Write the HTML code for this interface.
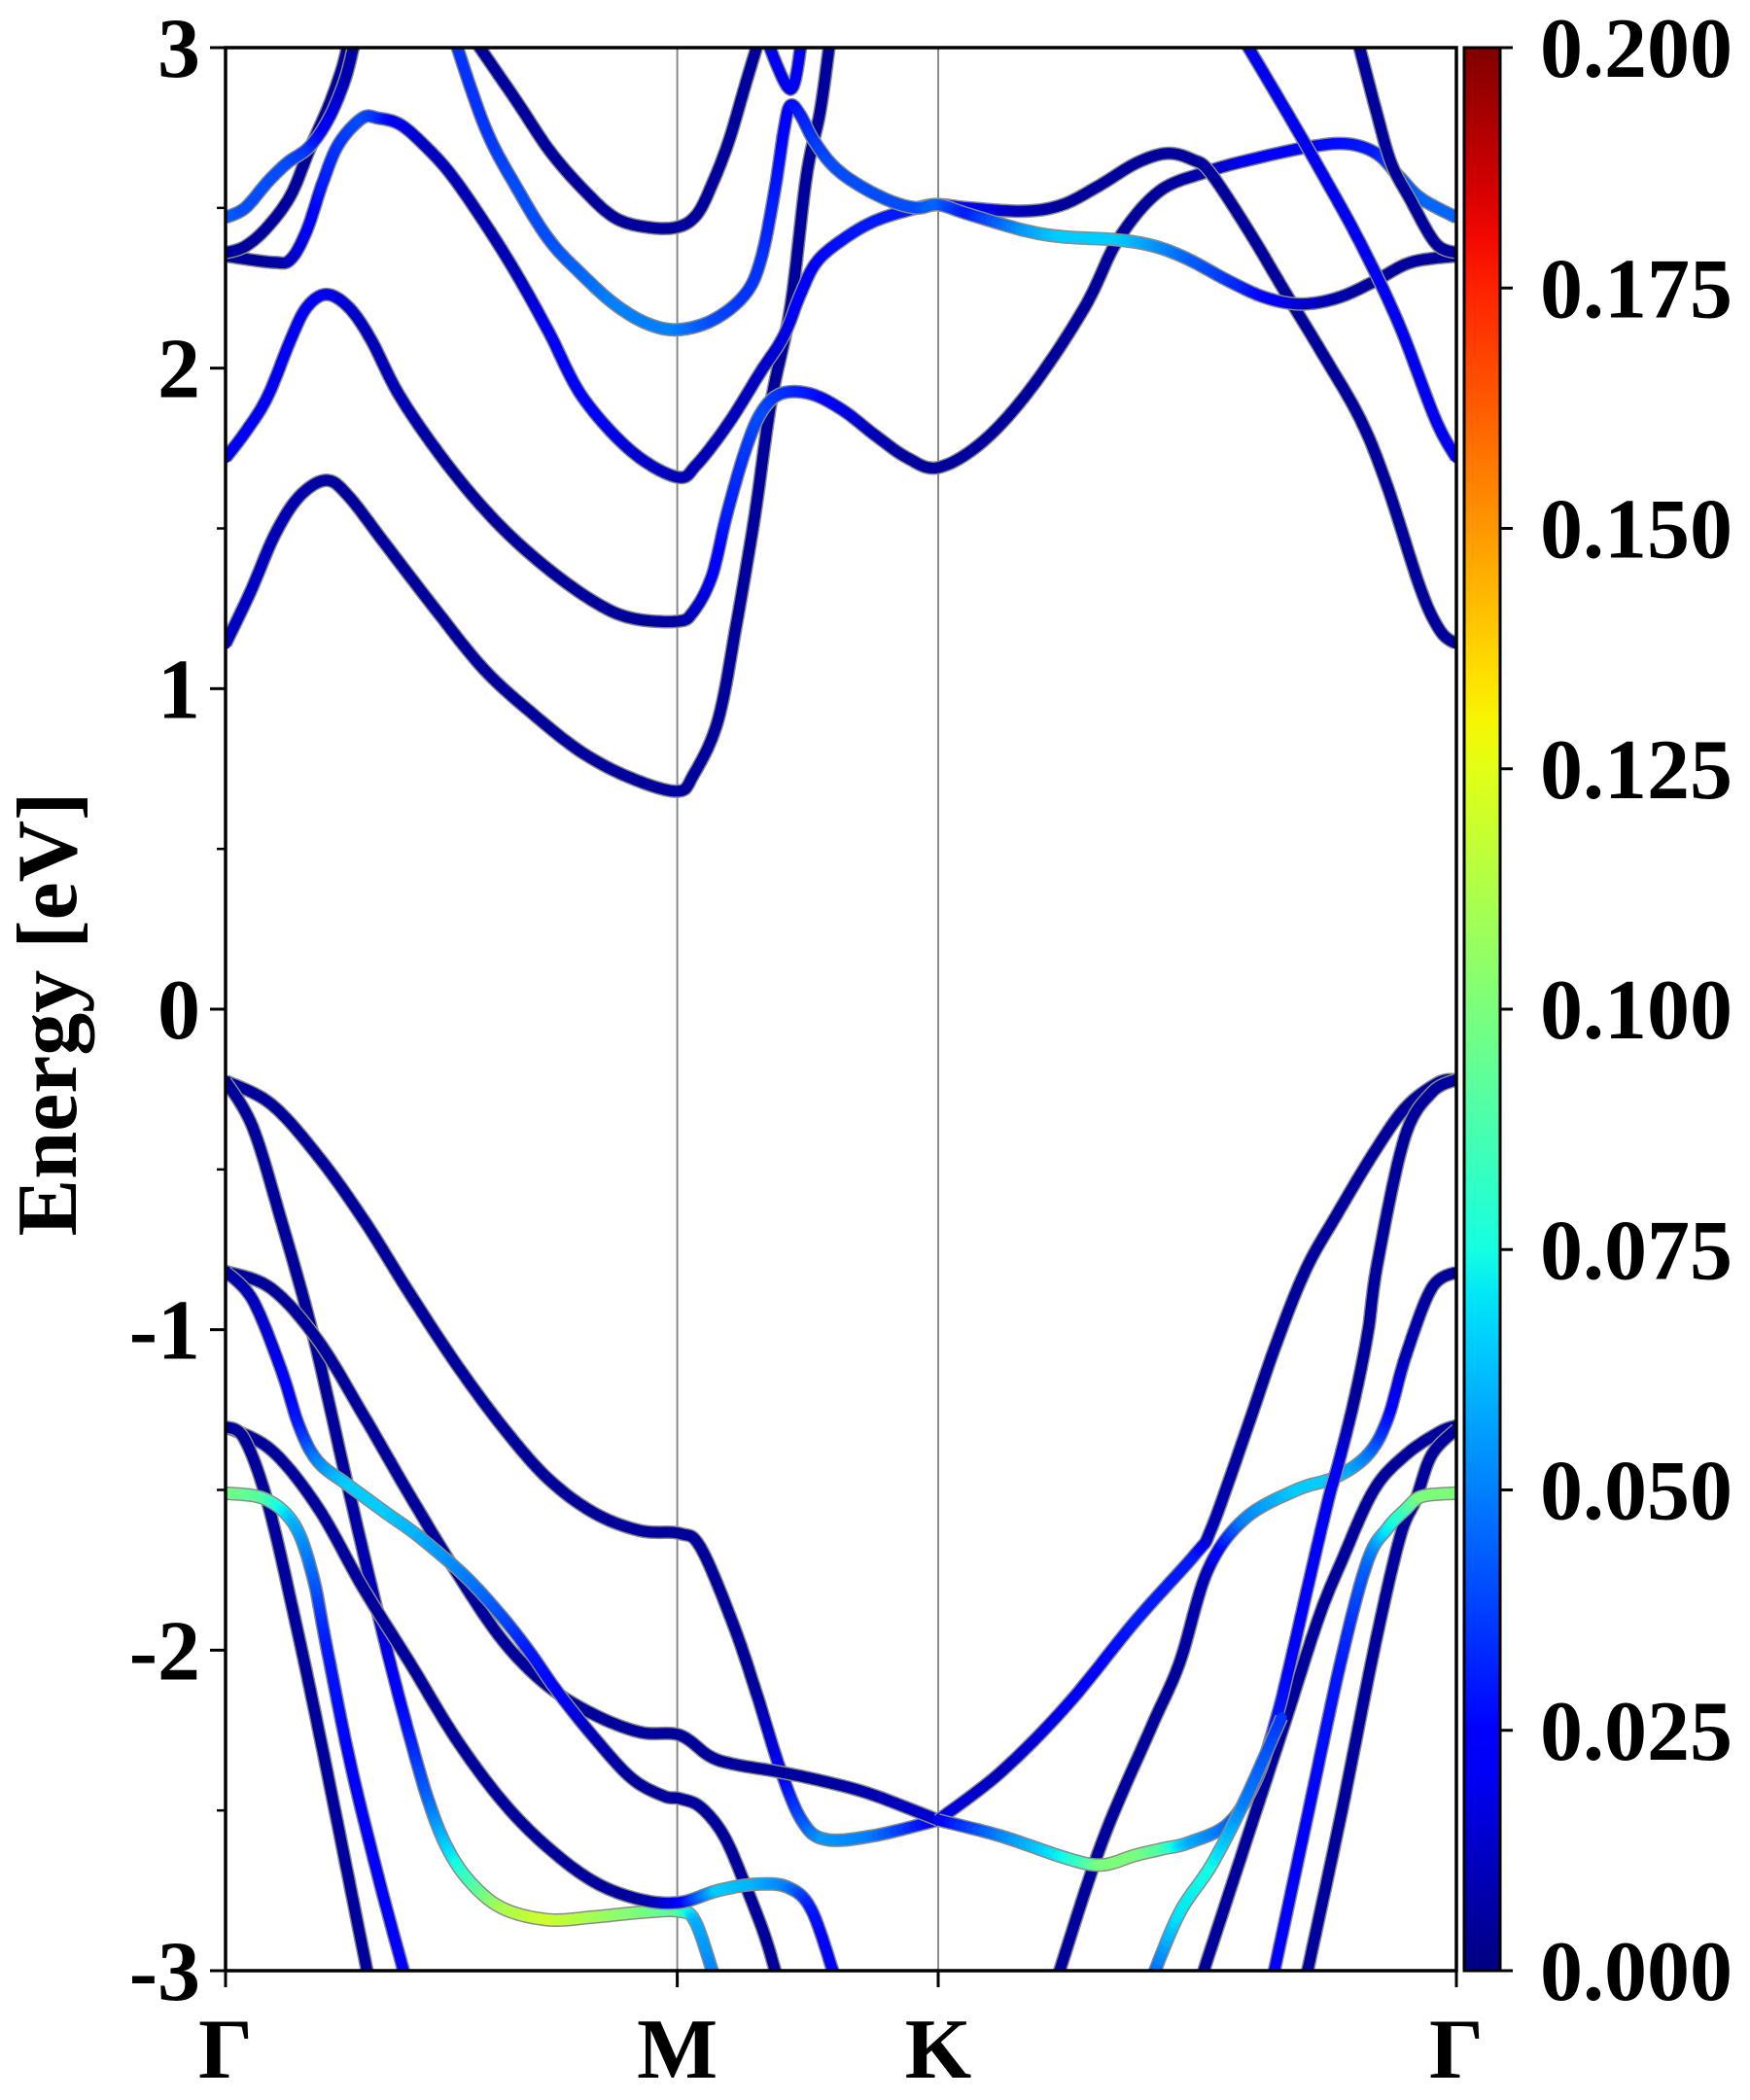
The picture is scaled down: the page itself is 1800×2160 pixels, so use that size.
<!DOCTYPE html>
<html><head><meta charset="utf-8"><style>
html,body{margin:0;padding:0;background:#fff;}
svg{display:block;}
text{font-family:"Liberation Serif","DejaVu Serif",serif;font-weight:bold;fill:#000;}
</style></head>
<body>
<svg id="chart" width="1800" height="2160" viewBox="0 0 1800 2160" xmlns="http://www.w3.org/2000/svg">
<defs>
<clipPath id="plotclip"><rect x="232" y="49" width="1266" height="1978"/></clipPath>
<linearGradient id="jetgrad" x1="0" y1="1" x2="0" y2="0"></linearGradient>
</defs>
<g id="gridlines"></g>
<g id="bands" clip-path="url(#plotclip)"></g>
<rect x="232" y="49" width="1266" height="1978" fill="none" stroke="#000" stroke-width="3.5"/>
<g id="yticks"></g>
<g id="xticks"></g>
<text x="0" y="0" font-size="88" text-anchor="middle" transform="translate(78,1043) rotate(-90)">Energy [eV]</text>
<rect x="1506" y="49" width="37" height="1978" fill="url(#jetgrad)" stroke="#000" stroke-width="3"/>
<g id="cbticks"></g>
</svg>
<script>
const yTicks=[3,2,1,0,-1,-2,-3];
const yTickLabels=["3","2","1","0","-1","-2","-3"];
const xTickK=[0,0.367,0.579,1.0];
const xTickLabels=["Γ","M","K","Γ"];
const cbTicks=[0,0.025,0.05,0.075,0.1,0.125,0.15,0.175,0.2];
const cbLabels=["0.000","0.025","0.050","0.075","0.100","0.125","0.150","0.175","0.200"];

const c1K=[0,0.02,0.04,0.06,0.082,0.10,0.13,0.17,0.21,0.25,0.29,0.33,0.367,0.38,0.40,0.415,0.430,0.443,0.459,0.472,0.483,0.491];
const c1E=[1.14,1.30,1.48,1.60,1.65,1.60,1.45,1.25,1.06,0.92,0.80,0.72,0.68,0.73,0.90,1.20,1.54,1.89,2.19,2.60,2.80,3.02];
const c1W=[0.012,0.012,0.01,0.008,0.006,0.005,0.005,0.005,0.005,0.005,0.005,0.005,0.005,0.005,0.005,0.005,0.005,0.005,0.005,0.005,0.005,0.005];

const c2K=[0,0.016,0.034,0.053,0.066,0.082,0.100,0.118,0.142,0.18,0.22,0.26,0.30,0.33,0.367,0.38,0.395,0.407,0.422,0.435,0.451,0.475,0.501,0.528,0.554,0.579,0.615,0.655,0.698,0.725,0.758,0.795,0.832,0.880,0.911,0.935,0.953,0.971,1.0];
const c2E=[1.72,1.80,1.91,2.09,2.19,2.23,2.19,2.09,1.91,1.70,1.52,1.38,1.27,1.22,1.21,1.24,1.35,1.54,1.74,1.86,1.92,1.92,1.87,1.79,1.72,1.69,1.77,1.94,2.19,2.40,2.55,2.61,2.65,2.69,2.70,2.67,2.60,2.53,2.47];
const c2W=[0.02,0.02,0.02,0.02,0.02,0.02,0.015,0.01,0.01,0.005,0.005,0.005,0.005,0.005,0.005,0.01,0.02,0.03,0.035,0.04,0.035,0.03,0.02,0.01,0.005,0.005,0.005,0.005,0.005,0.005,0.005,0.008,0.02,0.025,0.028,0.03,0.04,0.045,0.045];

const c3K=[0,0.039,0.053,0.066,0.079,0.092,0.111,0.124,0.142,0.163,0.184,0.211,0.237,0.263,0.290,0.330,0.367,0.383,0.409,0.435,0.449,0.457,0.467,0.480,0.501,0.528,0.562,0.579,0.604,0.649,0.680,0.710,0.740,0.765,0.786,0.800,0.831,0.862,0.892,0.922,0.944,0.971,0.987,1.0];
const c3E=[2.35,2.33,2.34,2.43,2.58,2.70,2.78,2.78,2.76,2.69,2.60,2.45,2.29,2.11,1.91,1.74,1.66,1.70,1.83,1.99,2.07,2.13,2.23,2.33,2.40,2.46,2.50,2.51,2.50,2.49,2.51,2.57,2.64,2.67,2.65,2.61,2.43,2.23,2.04,1.84,1.63,1.31,1.18,1.14];
const c3W=[0.005,0.005,0.01,0.02,0.03,0.035,0.04,0.035,0.02,0.012,0.01,0.008,0.01,0.02,0.025,0.015,0.01,0.01,0.01,0.012,0.015,0.018,0.022,0.025,0.028,0.03,0.03,0.03,0.025,0.01,0.005,0.005,0.005,0.005,0.005,0.005,0.005,0.005,0.005,0.005,0.005,0.005,0.005,0.005];

const c4K=[0,0.016,0.034,0.053,0.068,0.084,0.095,0.100];
const c4E=[2.36,2.38,2.44,2.54,2.68,2.82,2.94,3.02];
const c4W=[0.005,0.005,0.005,0.005,0.005,0.005,0.005,0.005];

const c5K=[0,0.016,0.034,0.050,0.068,0.084,0.097,0.105];
const c5E=[2.47,2.50,2.58,2.64,2.69,2.78,2.90,3.02];
const c5W=[0.045,0.04,0.04,0.04,0.035,0.02,0.01,0.005];

const c6K=[0.184,0.211,0.237,0.263,0.290,0.316,0.342,0.367,0.396,0.422,0.435,0.446,0.454,0.459,0.467,0.478,0.494,0.515,0.541,0.562,0.579,0.604,0.649,0.680,0.725,0.755,0.782,0.816,0.845,0.874,0.904,0.933,0.963,1.0];
const c6E=[3.05,2.75,2.56,2.40,2.29,2.20,2.14,2.12,2.15,2.23,2.34,2.55,2.75,2.82,2.79,2.71,2.63,2.57,2.52,2.50,2.51,2.48,2.43,2.41,2.40,2.38,2.34,2.27,2.22,2.20,2.22,2.27,2.33,2.35];
const c6W=[0.035,0.035,0.04,0.04,0.045,0.05,0.05,0.05,0.04,0.035,0.035,0.03,0.025,0.025,0.03,0.035,0.04,0.04,0.04,0.04,0.045,0.03,0.055,0.065,0.065,0.055,0.045,0.035,0.025,0.015,0.008,0.005,0.005,0.005];

const c7K=[0.203,0.237,0.263,0.290,0.316,0.342,0.367,0.383,0.396,0.409,0.422,0.433];
const c7E=[3.02,2.83,2.68,2.56,2.47,2.44,2.44,2.48,2.58,2.71,2.88,3.02];
const c7W=[0.005,0.005,0.005,0.005,0.005,0.005,0.005,0.005,0.005,0.005,0.005,0.005];

const c8K=[0.440,0.459,0.468];
const c8E=[3.02,2.87,3.02];
const c8W=[0.02,0.02,0.02];

const c9K=[0.828,0.862,0.892,0.922,0.953,0.983,1.0];
const c9E=[3.02,2.80,2.60,2.39,2.14,1.84,1.72];
const c9W=[0.02,0.02,0.02,0.02,0.02,0.02,0.02];

const c10K=[0.920,0.935,0.947,0.962,0.983,1.0];
const c10E=[3.02,2.80,2.64,2.53,2.39,2.36];
const c10W=[0.005,0.005,0.005,0.005,0.005,0.005];

const v1K=[0,0.037,0.075,0.112,0.150,0.187,0.225,0.262,0.300,0.337,0.369,0.386,0.412,0.431,0.450,0.468,0.487,0.525,0.579];
const v1E=[-0.224,-0.296,-0.458,-0.656,-0.889,-1.105,-1.303,-1.465,-1.573,-1.627,-1.636,-1.68,-1.915,-2.13,-2.364,-2.53,-2.59,-2.58,-2.53];
const v1W=[0.005,0.005,0.005,0.005,0.005,0.005,0.005,0.005,0.005,0.005,0.005,0.005,0.005,0.005,0.02,0.04,0.055,0.05,0.02];

const v2K=[0,0.022,0.045,0.071,0.099,0.120,0.135,0.150,0.165,0.180,0.199,0.225,0.262,0.300,0.337,0.369,0.382,0.397];
const v2E=[-0.224,-0.368,-0.656,-1.015,-1.483,-1.825,-2.059,-2.275,-2.472,-2.616,-2.724,-2.805,-2.841,-2.832,-2.818,-2.814,-2.85,-3.02];
const v2W=[0.005,0.005,0.005,0.005,0.005,0.01,0.02,0.03,0.045,0.065,0.085,0.11,0.12,0.11,0.1,0.09,0.06,0.05];

const v3K=[0,0.037,0.075,0.112,0.150,0.187,0.225,0.262,0.300,0.337,0.369,0.393,0.412,0.450,0.487,0.525,0.579];
const v3E=[-0.818,-0.871,-1.033,-1.267,-1.519,-1.753,-1.969,-2.112,-2.202,-2.256,-2.265,-2.33,-2.355,-2.38,-2.41,-2.45,-2.53];
const v3W=[0.005,0.005,0.005,0.005,0.005,0.005,0.005,0.005,0.005,0.005,0.005,0.005,0.005,0.005,0.005,0.008,0.015];

const v4K=[0,0.022,0.045,0.060,0.075,0.099,0.131,0.157,0.195,0.225,0.247,0.270,0.300,0.330,0.356,0.369,0.386,0.405,0.423,0.438,0.448];
const v4E=[-0.818,-0.907,-1.123,-1.303,-1.411,-1.483,-1.573,-1.645,-1.771,-1.897,-2.005,-2.131,-2.275,-2.400,-2.455,-2.463,-2.49,-2.58,-2.74,-2.89,-3.02];
const v4W=[0.005,0.01,0.02,0.03,0.05,0.065,0.065,0.06,0.05,0.04,0.03,0.025,0.01,0.005,0.005,0.005,0.005,0.005,0.005,0.005,0.005];

const v5K=[0,0.037,0.075,0.112,0.150,0.187,0.225,0.262,0.300,0.337,0.369,0.400,0.431,0.457,0.476,0.495];
const v5E=[-1.303,-1.375,-1.555,-1.807,-2.041,-2.275,-2.472,-2.616,-2.724,-2.778,-2.787,-2.75,-2.73,-2.74,-2.81,-3.02];
const v5W=[0.005,0.005,0.005,0.005,0.005,0.005,0.005,0.005,0.005,0.005,0.02,0.065,0.06,0.05,0.03,0.02];

const v6K=[0,0.015,0.034,0.056,0.075,0.094,0.116];
const v6E=[-1.303,-1.339,-1.537,-1.897,-2.238,-2.598,-3.02];
const v6W=[0.005,0.005,0.005,0.005,0.005,0.005,0.005];

const v7K=[0,0.032,0.056,0.071,0.082,0.101,0.124,0.146];
const v7E=[-1.51,-1.528,-1.609,-1.771,-1.987,-2.346,-2.706,-3.02];
const v7W=[0.1,0.09,0.06,0.045,0.03,0.025,0.025,0.025];

const pK=[0.579,0.630,0.684,0.739,0.788,0.801,0.828,0.854,0.878,0.903,0.931,0.958,0.985,1.0];
const pE=[-2.53,-2.38,-2.17,-1.91,-1.70,-1.62,-1.33,-1.04,-0.81,-0.64,-0.46,-0.31,-0.23,-0.22];
const pW=[0.02,0.01,0.02,0.03,0.03,0.01,0.005,0.005,0.005,0.005,0.005,0.005,0.005,0.005];

const qK=[0.676,0.712,0.751,0.775,0.798,0.828,0.870,0.902,0.928,0.944,0.959,0.980,1.0];
const qE=[-3.02,-2.60,-2.25,-2.04,-1.75,-1.59,-1.50,-1.46,-1.39,-1.28,-1.08,-0.87,-0.82];
const qW=[0.005,0.005,0.005,0.005,0.01,0.05,0.065,0.065,0.05,0.03,0.01,0.005,0.005];

const l3K=[0.793,0.828,0.862,0.888,0.907,0.933,0.959,0.986,1.0];
const l3E=[-3.02,-2.61,-2.21,-1.90,-1.72,-1.50,-1.39,-1.32,-1.30];
const l3W=[0.005,0.005,0.005,0.005,0.005,0.005,0.005,0.005,0.005];

const l4K=[0.878,0.907,0.933,0.954,0.967,0.980,1.0];
const l4E=[-3.02,-2.50,-2.00,-1.65,-1.53,-1.39,-1.31];
const l4W=[0.005,0.005,0.005,0.005,0.005,0.005,0.005];

const l5K=[0.851,0.880,0.907,0.928,0.944,0.959,0.972,1.0];
const l5E=[-3.02,-2.50,-2.02,-1.72,-1.62,-1.56,-1.52,-1.51];
const l5W=[0.025,0.025,0.03,0.045,0.07,0.085,0.1,0.1];

const kdK=[0.579,0.630,0.684,0.712,0.739,0.761,0.783,0.815,0.838,0.854,0.865,0.880,0.896,0.904,0.917,0.928,0.936,0.958,0.980,1.0];
const kdE=[-2.53,-2.58,-2.65,-2.67,-2.64,-2.62,-2.60,-2.54,-2.40,-2.21,-2.04,-1.79,-1.53,-1.42,-1.22,-1.01,-0.79,-0.40,-0.26,-0.22];
const kdW=[0.02,0.05,0.075,0.1,0.1,0.09,0.06,0.045,0.035,0.03,0.025,0.025,0.02,0.02,0.005,0.005,0.005,0.005,0.005,0.005];

const l6K=[0.753,0.775,0.801,0.828,0.858];
const l6E=[-3.02,-2.82,-2.67,-2.47,-2.21];
const l6W=[0.04,0.07,0.075,0.05,0.035];

const bandList=[
 ["band-c1",c1K,c1E,c1W],["band-c2",c2K,c2E,c2W],["band-c3",c3K,c3E,c3W],["band-c4",c4K,c4E,c4W],
 ["band-c5",c5K,c5E,c5W],["band-c6",c6K,c6E,c6W],["band-c7",c7K,c7E,c7W],["band-c8",c8K,c8E,c8W],
 ["band-c9",c9K,c9E,c9W],["band-c10",c10K,c10E,c10W],
 ["band-v1",v1K,v1E,v1W],["band-v2",v2K,v2E,v2W],["band-v3",v3K,v3E,v3W],["band-v4",v4K,v4E,v4W],
 ["band-v5",v5K,v5E,v5W],["band-v6",v6K,v6E,v6W],["band-v7",v7K,v7E,v7W],
 ["band-p",pK,pE,pW],["band-q",qK,qE,qW],["band-l3",l3K,l3E,l3W],["band-l4",l4K,l4E,l4W],
 ["band-l5",l5K,l5E,l5W],["band-kdip",kdK,kdE,kdW],["band-l6",l6K,l6E,l6W]
];

const NS="http://www.w3.org/2000/svg";
const X0=232,X1=1498,Y0=49,Y1=2027,EMIN=-3,EMAX=3,WMAX=0.2;
function xS(k){return X0+k*(X1-X0);}
function yS(e){return Y1-(e-EMIN)/(EMAX-EMIN)*(Y1-Y0);}
function interp(pts,x){for(let i=0;i<pts.length-1;i++){if(x<=pts[i+1][0]){const t=(x-pts[i][0])/(pts[i+1][0]-pts[i][0]);return pts[i][1]+t*(pts[i+1][1]-pts[i][1]);}}return pts[pts.length-1][1];}
function jet(v){v=Math.max(0,Math.min(1,v));
 const r=interp([[0,0],[0.35,0],[0.66,1],[0.89,1],[1,0.5]],v);
 const g=interp([[0,0],[0.125,0],[0.375,1],[0.64,1],[0.91,0],[1,0]],v);
 const b=interp([[0,0.5],[0.11,1],[0.34,1],[0.65,0],[1,0]],v);
 return "rgb("+Math.round(r*255)+","+Math.round(g*255)+","+Math.round(b*255)+")";}
function mk(tag,attrs,parent){const el=document.createElementNS(NS,tag);for(const a in attrs)el.setAttribute(a,attrs[a]);parent.appendChild(el);return el;}

const grad=document.getElementById("jetgrad");
for(let i=0;i<=40;i++){const s=document.createElementNS(NS,"stop");s.setAttribute("offset",(i/40).toString());s.setAttribute("stop-color",jet(i/40));grad.appendChild(s);}

const gl=document.getElementById("gridlines");
[xTickK[1],xTickK[2]].forEach(function(k){
 const l=mk("line",{x1:xS(k),x2:xS(k),y1:Y0,y2:Y1,stroke:"#888",'stroke-width':2},gl);
 
 
});

const bg=document.getElementById("bands");
function cr(p0,p1,p2,p3,t){const t2=t*t,t3=t2*t;return 0.5*((2*p1)+(-p0+p2)*t+(2*p0-5*p1+4*p2-p3)*t2+(-p0+3*p1-3*p2+p3)*t3);}
bandList.forEach(function(b){
 const name=b[0],K=b[1],E=b[2],W=b[3];
 const pts=[];
 const n=K.length;
 for(let i=0;i<n-1;i++){
  const i0=Math.max(0,i-1),i3=Math.min(n-1,i+2);
  const steps=12;
  for(let s=0;s<steps;s++){const t=s/steps;
   pts.push([cr(xS(K[i0]),xS(K[i]),xS(K[i+1]),xS(K[i3]),t),cr(yS(E[i0]),yS(E[i]),yS(E[i+1]),yS(E[i3]),t),W[i]+(W[i+1]-W[i])*t]);}
 }
 pts.push([xS(K[n-1]),yS(E[n-1]),W[n-1]]);
 const g=mk("g",{},bg);
 
 
 let d="M"+pts[0][0].toFixed(1)+","+pts[0][1].toFixed(1);
 for(let i=1;i<pts.length;i++)d+="L"+pts[i][0].toFixed(1)+","+pts[i][1].toFixed(1);
 const o=mk("path",{d:d,fill:"none",stroke:"#8a8a8a","stroke-width":14,"stroke-linejoin":"round"},g);
 
 
 for(let i=0;i<pts.length-1;i++){
  const seg=mk("line",{x1:pts[i][0].toFixed(1),y1:pts[i][1].toFixed(1),x2:pts[i+1][0].toFixed(1),y2:pts[i+1][1].toFixed(1),stroke:jet((pts[i][2]+pts[i+1][2])/2/WMAX),"stroke-width":11,"stroke-linecap":"round"},g);
  
  
 }
});

const yt=document.getElementById("yticks");
yTicks.forEach(function(v,i){
 const t=mk("line",{x1:X0-16,x2:X0,y1:yS(v),y2:yS(v),stroke:"#000","stroke-width":3},yt);
 
 
 const tx=mk("text",{x:X0-26,y:yS(v)+30,"font-size":88,"text-anchor":"end"},yt);
 tx.textContent=yTickLabels[i];
 
 
 if(i<yTicks.length-1){
  const m=(v+yTicks[i+1])/2;
  const mt=mk("line",{x1:X0-9,x2:X0,y1:yS(m),y2:yS(m),stroke:"#000","stroke-width":2.5},yt);
  
  
 }
});

const xt=document.getElementById("xticks");
xTickK.forEach(function(k,i){
 const t=mk("line",{x1:xS(k),x2:xS(k),y1:Y1,y2:Y1+17,stroke:"#000","stroke-width":3},xt);
 
 
 const tx=mk("text",{x:xS(k),y:Y1+110,"font-size":88,"text-anchor":"middle"},xt);
 tx.textContent=xTickLabels[i];
 
 
});

const cb=document.getElementById("cbticks");
cbTicks.forEach(function(v,i){
 const y=Y1-(v/WMAX)*(Y1-Y0);
 const t=mk("line",{x1:1543,x2:1556,y1:y,y2:y,stroke:"#000","stroke-width":3},cb);
 
 
 const tx=mk("text",{x:1584,y:y+30,"font-size":88,"text-anchor":"start"},cb);
 tx.textContent=cbLabels[i];
 
 
});
</script>
</body></html>
